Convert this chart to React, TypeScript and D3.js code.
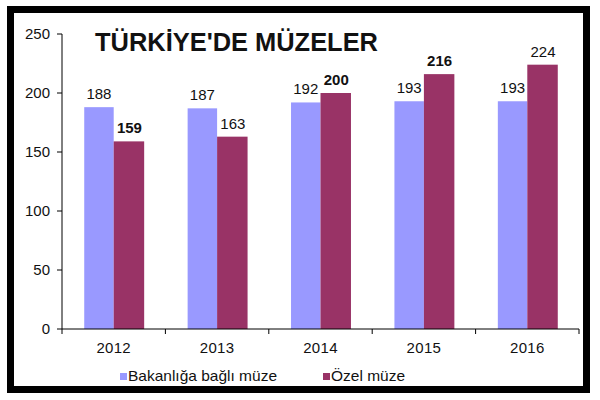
import React from 'react';
import * as d3 from 'd3';

const years = ['2012', '2013', '2014', '2015', '2016'];
const bakanlik = [188, 187, 192, 193, 193];
const ozel = [159, 163, 200, 216, 224];
const yTicks = [0, 50, 100, 150, 200, 250];
const seriesNames = ['Bakanlığa bağlı müze', 'Özel müze'];
// labels that were rendered bold in the original
const boldOzel = [true, false, true, true, false];

const colors = ['#9999FF', '#993366'];

export default function App() {
  const width = 600;
  const height = 400;
  const plot = { left: 62, right: 579, top: 34, bottom: 329 };

  const x = d3.scaleBand().domain(years).range([plot.left, plot.right]).padding(0);
  const y = d3.scaleLinear().domain([0, 250]).range([plot.bottom, plot.top]);
  const bw = x.bandwidth();
  const barW = bw * 0.285;
  const offset = (bw - 2 * barW) / 2;
  const font = '"Liberation Sans", Arial, sans-serif';

  const boundaries = years.map((yr) => x(yr)!).concat([plot.right]);

  return (
    <svg
      width={width}
      height={height}
      style={{ position: 'absolute', left: 0, top: 0, background: '#fff' }}
      fontFamily={font}
    >
      {/* frame */}
      <rect x={10.5} y={9.5} width={576} height={380} fill="#fff" stroke="#000" strokeWidth={7} />

      {/* title */}
      <text x={95} y={51} fontSize={25} fontWeight="bold" fill="#111" textLength={283} lengthAdjust="spacingAndGlyphs">
        TÜRKİYE'DE MÜZELER
      </text>

      {/* bars */}
      {years.map((yr, i) => {
        const x0 = x(yr)! + offset;
        return (
          <g key={yr}>
            <rect x={x0} y={y(bakanlik[i])} width={barW} height={y(0) - y(bakanlik[i])} fill={colors[0]} />
            <rect x={x0 + barW} y={y(ozel[i])} width={barW + 1} height={y(0) - y(ozel[i])} fill={colors[1]} />
            <text x={x0 + barW / 2} y={y(bakanlik[i]) - 8} textAnchor="middle" fontSize={15} fill="#111">
              {bakanlik[i]}
            </text>
            <text
              x={x0 + barW * 1.5 + 1}
              y={y(ozel[i]) - 8}
              textAnchor="middle"
              fontSize={15}
              fontWeight={boldOzel[i] ? 'bold' : 'normal'}
              fill="#111"
            >
              {ozel[i]}
            </text>
          </g>
        );
      })}

      {/* y axis */}
      <line x1={plot.left} x2={plot.left} y1={plot.top} y2={plot.bottom} stroke="#000" />
      {yTicks.map((t) => (
        <g key={t}>
          <line x1={plot.left - 5} x2={plot.left} y1={y(t)} y2={y(t)} stroke="#000" />
          <text x={50} y={y(t)} dy="0.36em" textAnchor="end" fontSize={15} fill="#111">
            {t}
          </text>
        </g>
      ))}

      {/* x axis */}
      <line x1={plot.left} x2={plot.right} y1={plot.bottom} y2={plot.bottom} stroke="#000" />
      {boundaries.map((b, i) => (
        <line key={i} x1={b} x2={b} y1={plot.bottom} y2={plot.bottom + 5} stroke="#000" />
      ))}
      {years.map((yr) => (
        <text key={yr} x={x(yr)! + bw / 2} y={353} textAnchor="middle" fontSize={15} fill="#111" letterSpacing={0.3}>
          {yr}
        </text>
      ))}

      {/* legend */}
      <rect x={120} y={373} width={7} height={7} fill={colors[0]} />
      <text x={128} y={381} fontSize={14.5} fill="#111" textLength={149} lengthAdjust="spacingAndGlyphs">
        {seriesNames[0]}
      </text>
      <rect x={323} y={373} width={7} height={7} fill={colors[1]} />
      <text x={331} y={381} fontSize={14.5} fill="#111" textLength={74} lengthAdjust="spacingAndGlyphs">
        {seriesNames[1]}
      </text>
    </svg>
  );
}
